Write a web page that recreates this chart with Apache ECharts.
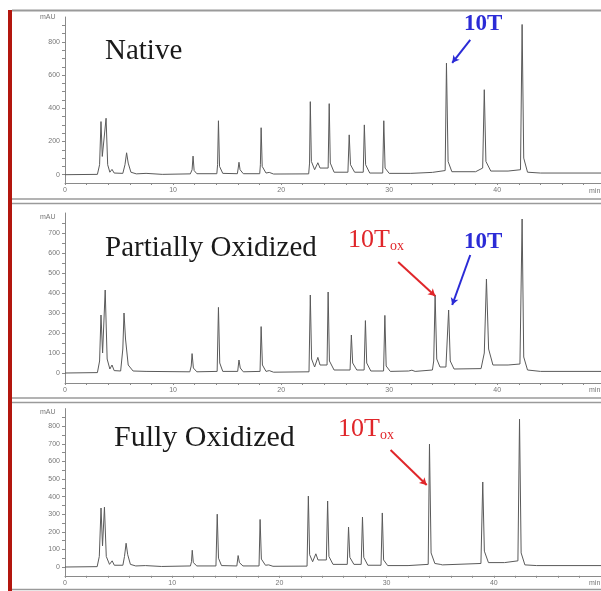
<!DOCTYPE html>
<html>
<head>
<meta charset="utf-8">
<script src="https://cdn.jsdelivr.net/npm/echarts@6/dist/echarts.min.js"></script>
<style>
html,body{margin:0;padding:0;background:#fff;}
#chart{width:601px;height:591px;}
</style>
</head>
<body>
<div id="chart"></div>
<script>
// ---- Data (retention time in min, absorbance in mAU) ----
const panelTitles = ['Native', 'Partially Oxidized', 'Fully Oxidized'];

const nativeTrace = [[0,0],[3.0,2],[3.2,60],[3.33,320],[3.45,110],[3.62,120],[3.8,340],[3.95,60],[4.15,15],[4.35,32],[4.55,10],[5.35,8],[5.55,60],[5.7,132],[5.85,70],[6.1,15],[6.6,5],[7.5,8],[9,2],[11.6,5],[11.76,30],[11.85,112],[11.95,25],[12.2,6],[14.05,6],[14.12,60],[14.2,325],[14.3,50],[14.6,8],[15.95,6],[16.03,40],[16.1,75],[16.2,30],[16.5,6],[18.02,6],[18.08,60],[18.15,283],[18.25,50],[18.6,10],[18.9,14],[19.3,4],[22.55,5],[22.63,70],[22.7,440],[22.8,80],[23.1,30],[23.4,72],[23.6,40],[24.35,40],[24.45,428],[24.55,70],[24.9,15],[26.18,15],[26.3,240],[26.42,60],[26.8,15],[27.6,15],[27.7,300],[27.82,60],[28.2,10],[29.4,10],[29.5,325],[29.62,40],[30.0,8],[32,8],[34,14],[35.18,25],[35.3,672],[35.45,80],[35.8,18],[38.0,18],[38.65,40],[38.8,512],[38.95,80],[39.4,22],[41,22],[42.15,30],[42.3,905],[42.45,100],[42.8,15],[44,10],[49.6,10]];

const partialTrace = [[0,0],[3.0,2],[3.2,60],[3.33,290],[3.48,100],[3.58,110],[3.72,415],[3.9,70],[4.15,20],[4.35,40],[4.55,12],[5.15,10],[5.35,120],[5.46,300],[5.6,170],[5.85,40],[6.3,10],[7.5,8],[11.55,6],[11.68,35],[11.76,97],[11.88,25],[12.2,6],[14.08,8],[14.2,328],[14.32,50],[14.6,8],[15.98,8],[16.1,65],[16.22,25],[16.5,6],[18.05,8],[18.15,232],[18.27,40],[18.6,8],[18.9,12],[19.3,4],[22.58,6],[22.7,390],[22.82,70],[23.1,30],[23.4,78],[23.6,40],[24.25,40],[24.35,405],[24.47,60],[24.9,15],[26.38,15],[26.5,190],[26.62,50],[27.0,15],[27.68,15],[27.8,262],[27.92,50],[28.3,10],[29.48,10],[29.6,288],[29.72,35],[30.1,8],[31.8,10],[32.1,14],[32.4,8],[34.0,15],[34.12,60],[34.25,390],[34.4,70],[34.7,30],[35.25,30],[35.5,315],[35.65,60],[36.0,20],[38.5,22],[38.8,100],[39.0,470],[39.2,120],[39.6,40],[41,40],[42.1,45],[42.3,770],[42.45,80],[42.8,15],[44,8],[49.6,8]];

const fullTrace = [[0,0],[3.0,2],[3.2,60],[3.36,335],[3.5,120],[3.56,120],[3.68,340],[3.85,60],[4.15,15],[4.4,35],[4.6,10],[5.4,10],[5.55,60],[5.7,135],[5.85,70],[6.1,15],[6.6,6],[7.5,8],[9,3],[11.7,6],[11.8,30],[11.87,95],[11.97,25],[12.3,6],[14.08,6],[14.2,300],[14.32,50],[14.6,8],[16.03,6],[16.15,65],[16.27,25],[16.6,6],[18.1,6],[18.2,270],[18.32,45],[18.7,10],[19.0,12],[19.4,4],[22.58,5],[22.7,403],[22.82,70],[23.1,30],[23.4,75],[23.6,40],[24.38,40],[24.5,375],[24.62,60],[25.0,15],[26.33,15],[26.45,227],[26.57,55],[26.95,15],[27.63,15],[27.75,284],[27.87,55],[28.25,10],[29.48,10],[29.6,307],[29.72,40],[30.1,8],[32.0,8],[33.88,15],[34.0,698],[34.15,80],[34.5,20],[35.0,15],[35.2,12],[38.8,20],[38.97,483],[39.12,90],[39.5,25],[41,25],[42.25,35],[42.4,840],[42.55,80],[42.9,12],[44,8],[50,8]];

// y tick label step and axis extents per panel
const yLabelStep = [200, 100, 100];
const yMax = [950, 800, 900];
const xMax = [49.6, 49.6, 50];

// annotation arrows: [from, to] in data coords (min, mAU)
const arrowNative10T = [[37.5, 812], [35.83, 674]];
const arrowPartial10Tox = [[30.83, 555], [34.26, 385]];
const arrowPartial10T = [[37.5, 590], [35.83, 340]];
const arrowFull10Tox = [[30.37, 665], [33.74, 466]];

// ---- Layout ----
const grids = [
  {left: 65, top: 17, width: 536, height: 166},
  {left: 65, top: 213, width: 536, height: 170},
  {left: 65, top: 408.6, width: 536, height: 167.2}
];
const RED = '#e0262a', BLUE = '#2b2bd6', AXIS = '#8a8a8a', LABEL = '#777';

function arrow(a, color) {
  return [{coord: a[0], lineStyle: {color: color}}, {coord: a[1]}];
}

const traces = [nativeTrace, partialTrace, fullTrace];
const arrows = [
  [arrow(arrowNative10T, BLUE)],
  [arrow(arrowPartial10Tox, RED), arrow(arrowPartial10T, BLUE)],
  [arrow(arrowFull10Tox, RED)]
];

const xAxes = [], yAxes = [], series = [];
for (let i = 0; i < 3; i++) {
  xAxes.push({
    gridIndex: i, type: 'value', min: 0, max: xMax[i], interval: 2,
    axisLine: {onZero: false, lineStyle: {color: AXIS, width: 1}},
    axisTick: {show: true, length: 2, lineStyle: {color: AXIS}},
    axisLabel: {fontSize: 7, color: LABEL, margin: 4, showMaxLabel: false,
      formatter: v => (Math.abs(v % 10) < 1e-6 ? String(v) : '')},
    splitLine: {show: false}
  });
  yAxes.push({
    gridIndex: i, type: 'value', min: -50, max: yMax[i], interval: 50,
    axisLine: {show: true, lineStyle: {color: AXIS, width: 1}},
    axisTick: {show: true, length: 3, lineStyle: {color: AXIS}},
    axisLabel: {fontSize: 7, color: LABEL, margin: 5, showMaxLabel: false, showMinLabel: false,
      formatter: v => (v >= 0 && v % yLabelStep[i] === 0 ? String(v) : '')},
    splitLine: {show: false}
  });
  series.push({
    type: 'line', xAxisIndex: i, yAxisIndex: i, data: traces[i],
    showSymbol: false, symbol: 'none', smooth: false,
    lineStyle: {color: '#5a5a5a', width: 1},
    animation: false, silent: true,
    markLine: {
      silent: true, animation: false,
      symbol: ['none', 'arrow'], symbolSize: [6, 7],
      label: {show: false},
      lineStyle: {type: 'solid', width: 2},
      data: arrows[i]
    }
  });
}

const serif = '"Liberation Serif", "DejaVu Serif", serif';
const oxRich = {
  a: {font: '26px ' + serif, fill: RED, color: RED},
  b: {font: '14px ' + serif, fill: RED, color: RED, padding: [12, 0, 0, 0]}
};
const graphic = [
  {type: 'rect', shape: {x: 8, y: 10, width: 4, height: 581}, style: {fill: '#b3160e'}, silent: true},
  {type: 'line', shape: {x1: 12, y1: 10.5, x2: 601, y2: 10.5}, style: {stroke: '#9a9a9a', lineWidth: 2}},
  {type: 'line', shape: {x1: 12, y1: 199, x2: 601, y2: 199}, style: {stroke: '#9a9a9a', lineWidth: 1.5}},
  {type: 'line', shape: {x1: 12, y1: 203.5, x2: 601, y2: 203.5}, style: {stroke: '#9a9a9a', lineWidth: 1.5}},
  {type: 'line', shape: {x1: 12, y1: 398, x2: 601, y2: 398}, style: {stroke: '#9a9a9a', lineWidth: 1.5}},
  {type: 'line', shape: {x1: 12, y1: 402.5, x2: 601, y2: 402.5}, style: {stroke: '#9a9a9a', lineWidth: 1.5}},
  {type: 'line', shape: {x1: 12, y1: 589.5, x2: 601, y2: 589.5}, style: {stroke: '#9a9a9a', lineWidth: 1.5}},
  // panel titles
  {type: 'text', left: 105, top: 37, style: {text: panelTitles[0], font: '29px ' + serif, fill: '#1a1a1a'}},
  {type: 'text', left: 105, top: 234, style: {text: panelTitles[1], font: '29px ' + serif, fill: '#1a1a1a'}},
  {type: 'text', left: 114, top: 423, style: {text: panelTitles[2], font: '30px ' + serif, fill: '#1a1a1a'}},
  // annotations
  {type: 'text', left: 464, top: 13, style: {text: '10T', font: 'bold 23px ' + serif, fill: BLUE}},
  {type: 'text', left: 464, top: 231, style: {text: '10T', font: 'bold 23px ' + serif, fill: BLUE}},
  {type: 'text', left: 348, top: 227, style: {text: '{a|10T}{b|ox}', rich: oxRich}},
  {type: 'text', left: 338, top: 416, style: {text: '{a|10T}{b|ox}', rich: oxRich}},
  // axis units
  {type: 'text', left: 40, top: 14, style: {text: 'mAU', font: '7px sans-serif', fill: LABEL}},
  {type: 'text', left: 40, top: 214, style: {text: 'mAU', font: '7px sans-serif', fill: LABEL}},
  {type: 'text', left: 40, top: 409, style: {text: 'mAU', font: '7px sans-serif', fill: LABEL}},
  {type: 'text', left: 589, top: 188, style: {text: 'min', font: '7px sans-serif', fill: LABEL}},
  {type: 'text', left: 589, top: 387, style: {text: 'min', font: '7px sans-serif', fill: LABEL}},
  {type: 'text', left: 589, top: 580, style: {text: 'min', font: '7px sans-serif', fill: LABEL}}
];

const chart = echarts.init(document.getElementById('chart'), null, {renderer: 'canvas'});
chart.setOption({
  backgroundColor: '#ffffff',
  animation: false,
  grid: grids,
  xAxis: xAxes,
  yAxis: yAxes,
  series: series,
  graphic: graphic
});
</script>
</body>
</html>
